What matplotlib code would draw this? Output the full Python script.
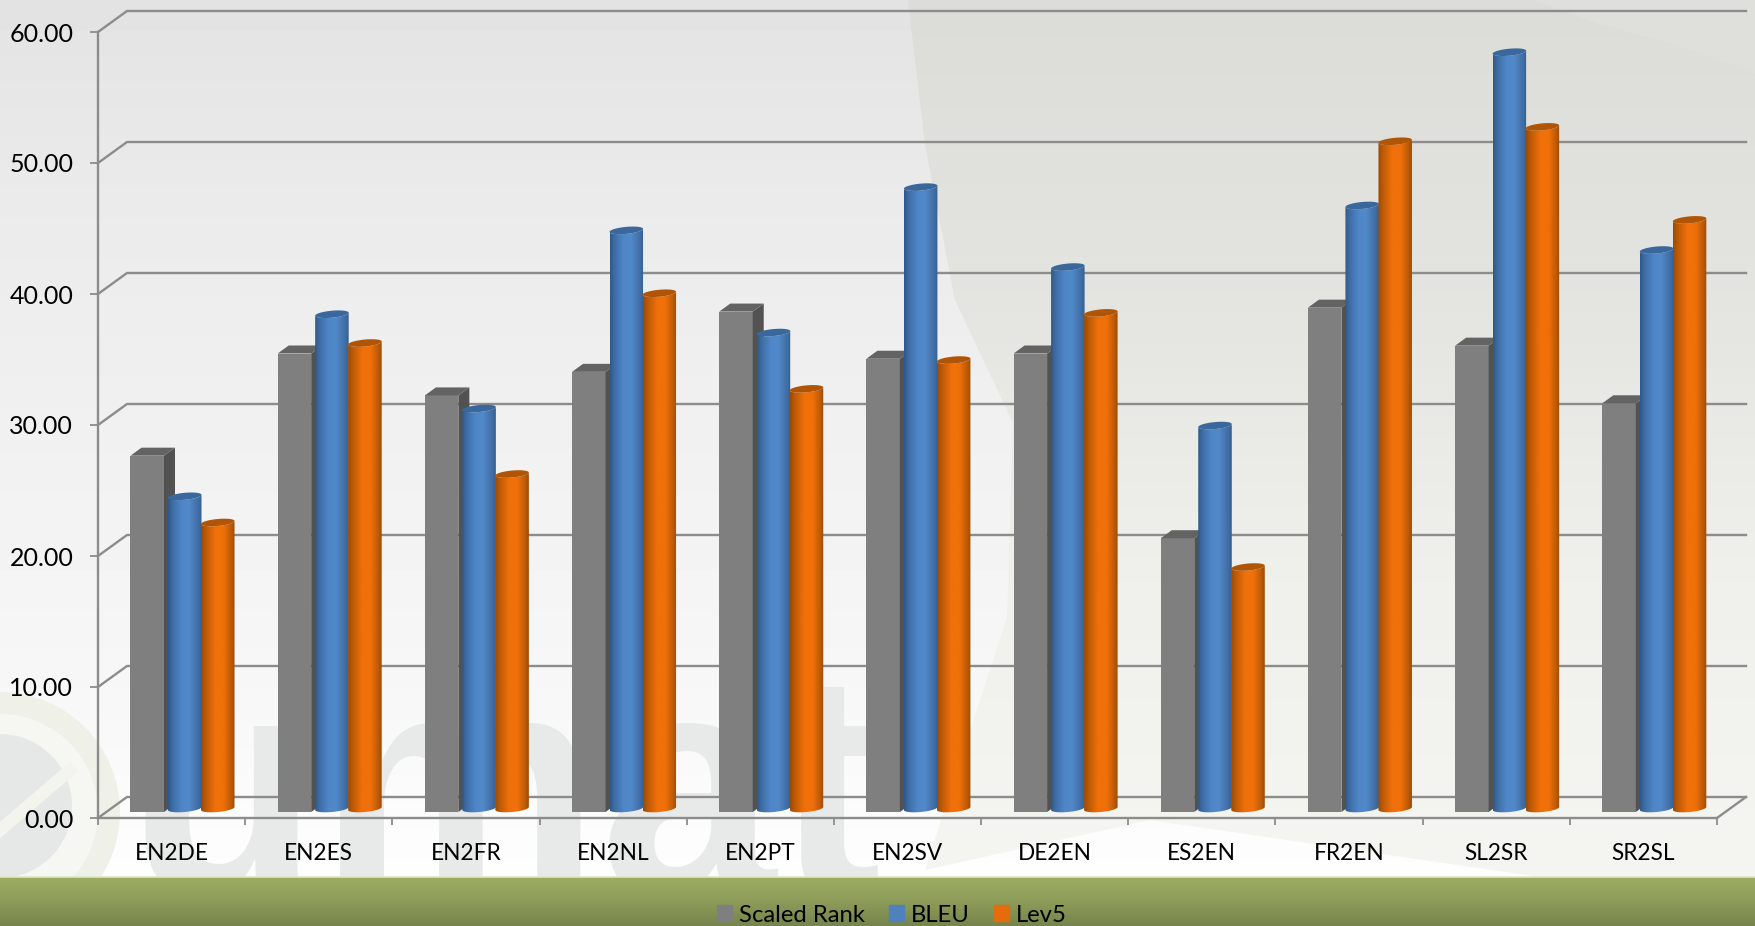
import numpy as np
import matplotlib
matplotlib.use('Agg')
from matplotlib import pyplot as plt
from matplotlib.colors import LinearSegmentedColormap
from matplotlib.patches import Patch, Polygon, Circle, Wedge

categories = ['EN2DE', 'EN2ES', 'EN2FR', 'EN2NL', 'EN2PT', 'EN2SV',
              'DE2EN', 'ES2EN', 'FR2EN', 'SL2SR', 'SR2SL']
scaled_rank = [27.2, 35.0, 31.8, 33.6, 38.2, 34.6, 35.0, 20.9, 38.5, 35.6, 31.2]
bleu = [24.1, 38.0, 30.8, 44.4, 36.6, 47.7, 41.6, 29.5, 46.3, 58.0, 42.9]
lev5 = [22.1, 35.8, 25.8, 39.6, 32.3, 34.5, 38.1, 18.7, 51.2, 52.3, 45.2]
y_ticks = [0, 10, 20, 30, 40, 50, 60]

W, H = 1756, 926
FONT = 'Lato'
LINE = '#8c8c8c'

# plot box in pixels, the rest of the layout hangs off this
X0, X1, Y0, Y60 = 98, 1717, 818, 32
px_x = (X1 - X0) / 11.0
px_y = (Y0 - Y60) / 60.0

# depth of the box and of the bars, in data units
wall_dx = 29 / px_x
wall_dy = 21 / px_y
base = 6 / px_y
bar_w = 33.5 / px_x
side_dx = 11 / px_x
side_dy = 8 / px_y
cap_h = 3.5 / px_y
cap_tilt = 1.5 / px_y

fig = plt.figure(figsize=(W / 100, H / 100), dpi=100)

# background layer, in pixel coordinates
bg = fig.add_axes([0, 0, 1, 1], zorder=0)
bg.set_xlim(0, W)
bg.set_ylim(H, 0)
bg.axis('off')

stops_y = [0, 200, 500, 700, 877]
stops_v = [0.89, 0.92, 0.95, 0.97, 0.995]
grad = np.interp(np.arange(H), stops_y, stops_v).reshape(-1, 1)
bg.imshow(grad, cmap='gray', vmin=0, vmax=1, extent=(0, W, H, 0), aspect='auto', zorder=0)

# big swoosh on the right
swoosh = Polygon([(908, 0), (925, 145), (955, 300), (1013, 423), (1007, 617), (980, 700),
                  (925, 870), (1150, 820), (1540, 877), (1756, 877), (1756, 0)],
                 closed=True, fc='none', ec='none')
bg.add_patch(swoosh)
sw_cmap = LinearSegmentedColormap.from_list('sw', ['#dcddd8', '#e4e5e0', '#f0f1ec', '#f5f6f1'])
sw = bg.imshow(np.linspace(0, 1, 256).reshape(-1, 1), cmap=sw_cmap, extent=(0, W, 877, 0),
               aspect='auto', zorder=1)
sw.set_clip_path(swoosh)
# thin lighter arc in the top right corner
bg.add_patch(Polygon([(1532, 0), (1600, 24), (1680, 46), (1756, 74), (1756, 0)], closed=True,
                     fc='#dfe0db', ec='none', zorder=1))

# logo and faded wordmark near the bottom
bg.add_patch(Circle((0, 812), 120, fc='#eff1e8', ec='none', zorder=2))
bg.add_patch(Circle((0, 812), 98, fc='#f6f7f2', ec='none', zorder=2))
bg.add_patch(Wedge((0, 806), 72, -95, 95, width=72, fc='#e6e7e7', ec='none', zorder=2))
bg.plot([0, 70], [830, 770], color='#f3f4ee', lw=9, zorder=2)
bg.text(125, 894, 'umat', family='Liberation Sans', weight='bold', fontsize=228,
        color='#e8e9e9', ha='left', va='baseline', zorder=2)

# green band along the bottom
band_cmap = LinearSegmentedColormap.from_list('band', ['#9cad62', '#8d9c59', '#76844d'])
bg.imshow(np.linspace(0, 1, 64).reshape(-1, 1), cmap=band_cmap, extent=(0, W, H, 877),
          origin='upper', aspect='auto', zorder=3)
bg.plot([0, W], [877, 877], color='#dfe5c4', lw=1.2, zorder=4)
bg.set_xlim(0, W)
bg.set_ylim(H, 0)

ax = fig.add_axes([X0 / W, 1 - Y0 / H, (X1 - X0) / W, (Y0 - Y60) / H], zorder=1)
ax.patch.set_alpha(0)

# back wall, floor and gridlines
for v in y_ticks:
    ax.plot([0, wall_dx, 11 + wall_dx], [v, v + wall_dy, v + wall_dy], color=LINE, lw=1.7,
            clip_on=False, zorder=1, solid_joinstyle='miter')
ax.plot([11, 11 + wall_dx], [0, wall_dy], color=LINE, lw=1.7, clip_on=False, zorder=1)

blue_cmap = LinearSegmentedColormap.from_list(
    'blue', [(0, '#2f5785'), (0.12, '#3d6ca3'), (0.4, '#4f86c8'), (0.62, '#5289c9'),
             (0.88, '#416fa6'), (1, '#36608f')])
orange_cmap = LinearSegmentedColormap.from_list(
    'orange', [(0, '#994a06'), (0.14, '#bd5a07'), (0.42, '#f0700a'), (0.66, '#f0700a'),
               (0.88, '#c05c07'), (1, '#9c4c06')])


def box_bar(x, v, z):
    top = base + v
    ax.bar(x, v, width=bar_w, bottom=base, align='edge', color='#7f7f7f', zorder=z)
    r = x + bar_w
    ax.add_patch(Polygon([(r, base), (r + side_dx, base + side_dy), (r + side_dx, top + side_dy), (r, top)],
                         fc='#525252', ec='none', zorder=z))
    ax.add_patch(Polygon([(x, top), (r, top), (r + side_dx, top + side_dy), (x + side_dx, top + side_dy)],
                         fc='#636363', ec='none', zorder=z))


def cylinder(x, v, cmap, cap_color, z):
    top = base + v
    t = np.linspace(0, np.pi, 40)
    xc = x + bar_w / 2
    ex = np.cos(t) * bar_w / 2
    # lower half of a tilted ellipse, right to left
    low = -np.sin(t) * cap_h + np.cos(t) * cap_tilt
    upp = np.sin(t) * cap_h + np.cos(t) * cap_tilt
    # the foot of the cylinder rests on the same line as the box bars
    foot = base + cap_h
    pts = list(zip(xc + ex, foot + low)) + list(zip(xc + ex[::-1], top + low[::-1]))
    body = Polygon(pts, closed=True, fc='none', ec='none', zorder=z)
    ax.add_patch(body)
    im = ax.imshow(np.linspace(0, 1, 128).reshape(1, -1), cmap=cmap, aspect='auto', zorder=z,
                   extent=(x, x + bar_w, base - 2 * cap_h, top + 2 * cap_h))
    im.set_clip_path(body)
    cap = list(zip(xc + ex, top + upp)) + list(zip(xc + ex[::-1], top + low[::-1]))
    ax.add_patch(Polygon(cap, closed=True, fc=cap_color, ec='none', zorder=z + 0.1))


for i in range(len(categories)):
    z = 2 + i
    box_bar(i + 32.5 / px_x, scaled_rank[i], z)
    cylinder(i + 70 / px_x, bleu[i], blue_cmap, '#3a689c', z + 0.2)
    cylinder(i + 103 / px_x, lev5[i], orange_cmap, '#b05505', z + 0.4)

ax.set_xlim(0, 11)
ax.set_ylim(0, 60)
ax.set_yticks(y_ticks)
ax.set_yticklabels(['%.2f' % v for v in y_ticks], family=FONT, fontsize=18, color='black')
ax.set_xticks(np.arange(12))
ax.set_xticklabels([])
ax.set_xticks(np.arange(11) + 0.5, categories, minor=True, family=FONT, fontsize=16.3, color='black')
ax.tick_params(axis='y', length=5.8, width=1.3, color=LINE, pad=12)
ax.tick_params(axis='x', which='major', length=5, width=1.3, color=LINE)
ax.tick_params(axis='x', which='minor', length=0, pad=18)
for s in ['top', 'right']:
    ax.spines[s].set_visible(False)
for s in ['left', 'bottom']:
    ax.spines[s].set_color(LINE)
    ax.spines[s].set_linewidth(1.7)

handles = [Patch(color='#7f7f7f'), Patch(color='#4f81bd'), Patch(color='#e46c0a')]
leg = fig.legend(handles, ['Scaled Rank', 'BLEU', 'Lev5'], ncol=3, loc='center',
                 bbox_to_anchor=(892 / W, 1 - 915 / H), frameon=False,
                 prop={'family': FONT, 'size': 17.2}, handlelength=0.62, handleheight=0.62,
                 handletextpad=0.3, columnspacing=1.0, labelcolor='black')
leg.set_zorder(5)

fig.savefig('out.png', dpi=100)
